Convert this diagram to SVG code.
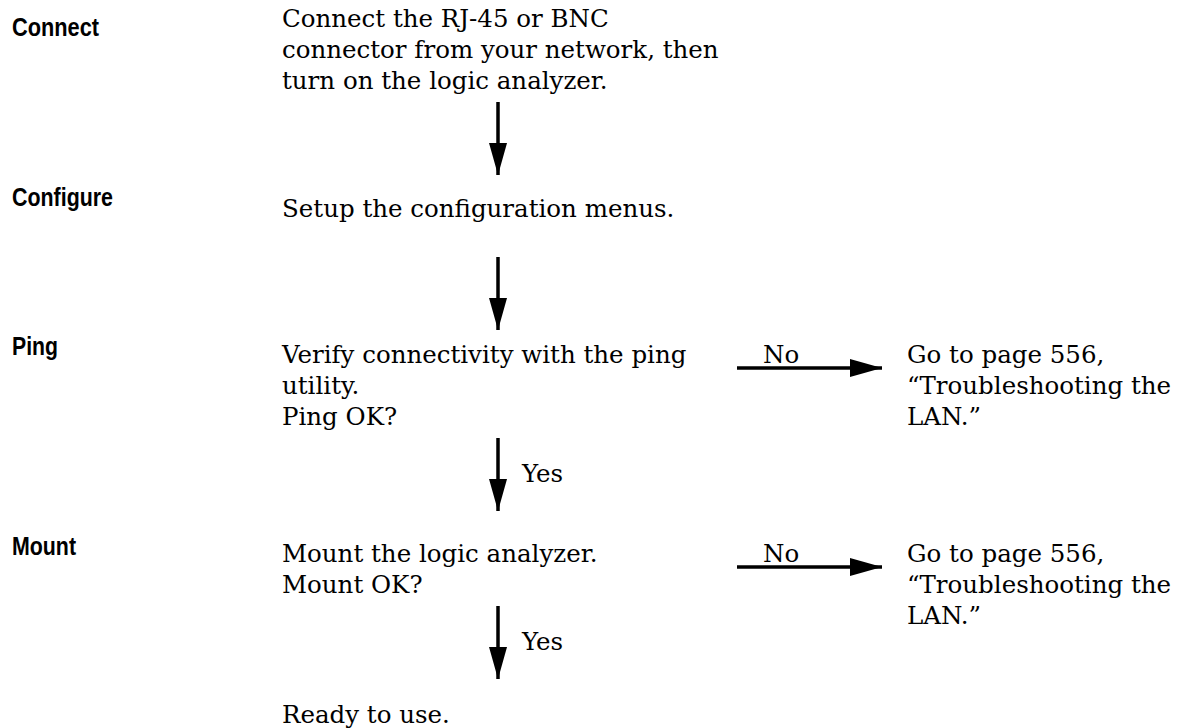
<svg xmlns="http://www.w3.org/2000/svg" width="1181" height="728" viewBox="0 0 1181 728">
<defs>
<style>
.lbl{font-family:"Liberation Sans",Arial,sans-serif;font-weight:bold;font-size:26px;fill:#000}
.txt{font-family:"DejaVu Serif","Liberation Serif",serif;font-size:24.5px;fill:#000}
.ln{stroke:#000;stroke-width:3.5;fill:none}
</style>
<marker id="ah" markerUnits="userSpaceOnUse" markerWidth="32" markerHeight="18" refX="32" refY="9" orient="auto" viewBox="0 0 32 18">
<path d="M0,0 L32,9 L0,18 Z" fill="#000"/>
</marker>
</defs>
<rect width="1181" height="728" fill="#fff"/>
<g id="connect">
<text class="lbl" x="12" y="36" textLength="87" lengthAdjust="spacingAndGlyphs">Connect</text>
<text class="txt" x="282" y="27">Connect the RJ-45 or BNC</text>
<text class="txt" x="282" y="58">connector from your network, then</text>
<text class="txt" x="282" y="89">turn on the logic analyzer.</text>
</g>
<g id="configure">
<text class="lbl" x="12" y="206" textLength="101" lengthAdjust="spacingAndGlyphs">Configure</text>
<text class="txt" x="282" y="217">Setup the configuration menus.</text>
</g>
<g id="ping">
<text class="lbl" x="12" y="355" textLength="46" lengthAdjust="spacingAndGlyphs">Ping</text>
<text class="txt" x="282" y="363">Verify connectivity with the ping</text>
<text class="txt" x="282" y="394">utility.</text>
<text class="txt" x="282" y="425">Ping OK?</text>
</g>
<g id="ping-fail">
<text class="txt" x="907" y="363">Go to page 556,</text>
<text class="txt" x="907" y="394">“Troubleshooting the</text>
<text class="txt" x="907" y="425">LAN.”</text>
</g>
<g id="mount">
<text class="lbl" x="12" y="555" textLength="64" lengthAdjust="spacingAndGlyphs">Mount</text>
<text class="txt" x="282" y="562">Mount the logic analyzer.</text>
<text class="txt" x="282" y="593">Mount OK?</text>
</g>
<g id="mount-fail">
<text class="txt" x="907" y="562">Go to page 556,</text>
<text class="txt" x="907" y="593">“Troubleshooting the</text>
<text class="txt" x="907" y="624">LAN.”</text>
</g>
<g id="ready">
<text class="txt" x="282" y="723">Ready to use.</text>
</g>
<g id="connectors">
<line class="ln" x1="498" y1="102" x2="498" y2="175" marker-end="url(#ah)"/>
<line class="ln" x1="498" y1="257" x2="498" y2="330" marker-end="url(#ah)"/>
<line class="ln" x1="498" y1="438" x2="498" y2="511" marker-end="url(#ah)"/>
<text class="txt" x="522" y="482">Yes</text>
<line class="ln" x1="498" y1="606" x2="498" y2="679" marker-end="url(#ah)"/>
<text class="txt" x="522" y="650">Yes</text>
<line class="ln" x1="737" y1="368" x2="882" y2="368" marker-end="url(#ah)"/>
<text class="txt" x="763" y="363">No</text>
<line class="ln" x1="737" y1="567" x2="882" y2="567" marker-end="url(#ah)"/>
<text class="txt" x="763" y="562">No</text>
</g>
</svg>
